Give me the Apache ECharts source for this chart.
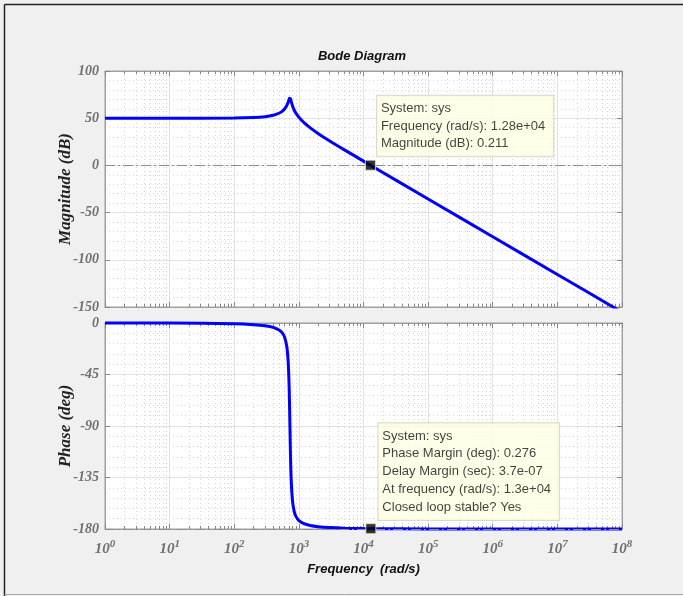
<!DOCTYPE html>
<html><head><meta charset="utf-8">
<script src="https://cdn.jsdelivr.net/npm/echarts@6/dist/echarts.min.js"></script>
<style>html,body{margin:0;padding:0;background:#f0f0f0;overflow:hidden}#c{width:683px;height:596px;}</style>
</head><body><div id="c"></div>
<script>
// Frequency samples (rad/s)
const freq = [1,10,100,200,300,400,500,550,600,650,680,700,715,727,740,760,800,850,900,1000,1200,1500,2000,3000,5000,10000,12800,1e5,1e6,1e7,1e8];
const magDb = [50.00,50.00,50.17,50.68,51.61,53.11,55.51,57.28,59.73,63.38,66.61,69.26,71.03,71.51,70.65,67.87,62.76,58.41,55.31,50.92,45.24,39.73,33.65,25.90,16.69,4.51,0.20,-35.54,-75.54,-115.54,-155.54];
const phaseDeg = [0.00,-0.07,-0.68,-1.43,-2.39,-3.79,-6.26,-8.45,-12.27,-20.53,-32.13,-47.97,-68.38,-90.00,-112.87,-136.59,-156.33,-165.02,-168.95,-172.62,-175.40,-176.95,-177.98,-178.76,-179.29,-179.65,-179.73,-179.97,-180.00,-180.00,-180.00];
// Data tips
const magTip = {freq: 12800, value: 0.211, lines: ['System: sys','Frequency (rad/s): 1.28e+04','Magnitude (dB): 0.211']};
const phaseTip = {freq: 13000, value: -179.724, lines: ['System: sys','Phase Margin (deg): 0.276','Delay Margin (sec): 3.7e-07','At frequency (rad/s): 1.3e+04','Closed loop stable? Yes']};
// Axis ticks
const magTicks = {min: -150, max: 100, step: 50};
const phaseTicks = {min: -180, max: 0, step: 45};
const freqRange = {min: 1, max: 1e8};

const chart = echarts.init(document.getElementById('c'), null, {renderer: 'canvas'});
const serif = 'Liberation Serif';
const sans = 'Liberation Sans';
const tickLabel = {color: '#707070', fontFamily: serif, fontStyle: 'italic', fontWeight: 'bold', fontSize: 14};
const axisLineStyle = {color: '#a0a0a0', width: 1};
const gridLeft = 105, gridW = 517;
const grids = [
  {left: gridLeft, top: 71, width: gridW, height: 236, show: true, backgroundColor: '#fff', borderColor: '#a0a0a0', borderWidth: 1},
  {left: gridLeft, top: 323, width: gridW, height: 206, show: true, backgroundColor: '#fff', borderColor: '#a0a0a0', borderWidth: 1}
];
function xAx(gi, pos, labels) {
  return {
    type: 'log', logBase: 10, gridIndex: gi, position: pos, min: freqRange.min, max: freqRange.max, splitNumber: 8,
    axisLine: {show: true, onZero: false, lineStyle: axisLineStyle},
    axisTick: {show: true, inside: true, length: 5, lineStyle: {color: '#888'}},
    minorTick: {show: true, splitNumber: 9, length: 3, lineStyle: {color: '#888'}},
    splitLine: {show: pos === 'bottom', lineStyle: {color: '#e2e2e2', width: 1}},
    minorSplitLine: {show: pos === 'bottom', lineStyle: {color: '#d6d6d6', type: [1, 3]}},
    axisLabel: labels ? {
      show: true, margin: 10,
      formatter: v => '{b|10}{s|' + Math.round(Math.log10(v)) + '}',
      rich: {b: Object.assign({}, tickLabel, {fontSize: 15}), s: Object.assign({}, tickLabel, {fontSize: 11, padding: [0, 0, 9, 0]})}
    } : {show: false},
    name: labels ? 'Frequency  (rad/s)' : '', nameLocation: 'middle', nameGap: 34, nameMoveOverlap: false,
    nameTextStyle: {fontFamily: sans, fontStyle: 'italic', fontWeight: 'bold', fontSize: 13, color: '#111'}
  };
}
function yAx(gi, pos, t, name) {
  const left = pos === 'left';
  return {
    type: 'value', gridIndex: gi, position: pos, min: t.min, max: t.max, interval: t.step,
    axisLine: {show: true, onZero: false, lineStyle: axisLineStyle},
    axisTick: {show: true, inside: true, length: 5, lineStyle: {color: '#888'}},
    splitLine: {show: left, lineStyle: {color: '#e2e2e2', width: 1}},
    minorSplitLine: {show: left, lineStyle: {color: '#d6d6d6', type: [1, 3]}},
    minorTick: {show: false, splitNumber: 5},
    axisLabel: left ? Object.assign({show: true, margin: 6}, tickLabel) : {show: false},
    name: left ? name : '', nameLocation: 'middle', nameGap: 31, nameRotate: 90, nameMoveOverlap: false,
    nameTextStyle: {fontFamily: serif, fontStyle: 'italic', fontWeight: 'bold', fontSize: 17, color: '#222'}
  };
}
const dashDot = {color: '#8c8c8c', width: 1, type: [10, 3, 2, 3]};
function tipLabel(lines, pos, lh) {
  return {
    show: true, position: pos, formatter: lines.join('\n'),
    backgroundColor: '#ffffe4', borderColor: '#d0d0c0', borderWidth: 1,
    padding: [4, 8, 4, 4], fontFamily: sans, fontSize: 13, lineHeight: lh, color: '#111', align: 'left', verticalAlign: 'top'
  };
}
chart.setOption({
  backgroundColor: '#f0f0f0',
  animation: false,
  grid: grids,
  xAxis: [xAx(0, 'bottom', false), xAx(0, 'top', false), xAx(1, 'bottom', true), xAx(1, 'top', false)],
  yAxis: [yAx(0, 'left', magTicks, 'Magnitude (dB)'), yAx(0, 'right', magTicks, ''), yAx(1, 'left', phaseTicks, 'Phase (deg)'), yAx(1, 'right', phaseTicks, '')],
  graphic: [
    {type: 'line', shape: {x1: 4.5, y1: 4.5, x2: 700, y2: 4.5}, style: {stroke: '#222', lineWidth: 1.5}},
    {type: 'line', shape: {x1: 4.5, y1: 4.5, x2: 4.5, y2: 596}, style: {stroke: '#222', lineWidth: 1.5}},
    {type: 'line', shape: {x1: 4.5, y1: 594.5, x2: 700, y2: 594.5}, style: {stroke: '#a8a8a8', lineWidth: 1}},
    {type: 'text', x: 362, y: 56, style: {text: 'Bode Diagram', textAlign: 'center', textVerticalAlign: 'middle',
      fontFamily: sans, fontStyle: 'italic', fontWeight: 'bold', fontSize: 13, fill: '#111'}}
  ],
  series: [
    {type: 'line', xAxisIndex: 0, yAxisIndex: 0, data: freq.map((f, i) => [f, magDb[i]]), smooth: 0.3, showSymbol: false, clip: true,
      lineStyle: {color: '#0000ff', width: 3}, z: 3,
      markLine: {silent: true, symbol: 'none', label: {show: false}, lineStyle: dashDot, data: [{yAxis: 0}]}},
    {type: 'line', xAxisIndex: 2, yAxisIndex: 2, data: freq.map((f, i) => [f, phaseDeg[i]]), smooth: 0.3, showSymbol: false, clip: false,
      lineStyle: {color: '#0000ff', width: 3}, z: 3,
      markLine: {silent: true, symbol: 'none', label: {show: false}, lineStyle: dashDot, data: [{yAxis: -180}]}},
    {type: 'scatter', xAxisIndex: 0, yAxisIndex: 0, symbol: 'rect', symbolSize: 10, z: 5,
      itemStyle: {color: '#000', borderColor: '#e6e6c8', borderWidth: 1},
      data: [[magTip.freq, magTip.value]], label: tipLabel(magTip.lines, [12, -64], 17.5)},
    {type: 'scatter', xAxisIndex: 2, yAxisIndex: 2, symbol: 'rect', symbolSize: 10, z: 5, clip: false,
      itemStyle: {color: '#000', borderColor: '#e6e6c8', borderWidth: 1},
      data: [[phaseTip.freq, phaseTip.value]], label: tipLabel(phaseTip.lines, [13, -100], 17.75)}
  ]
});
</script></body></html>
